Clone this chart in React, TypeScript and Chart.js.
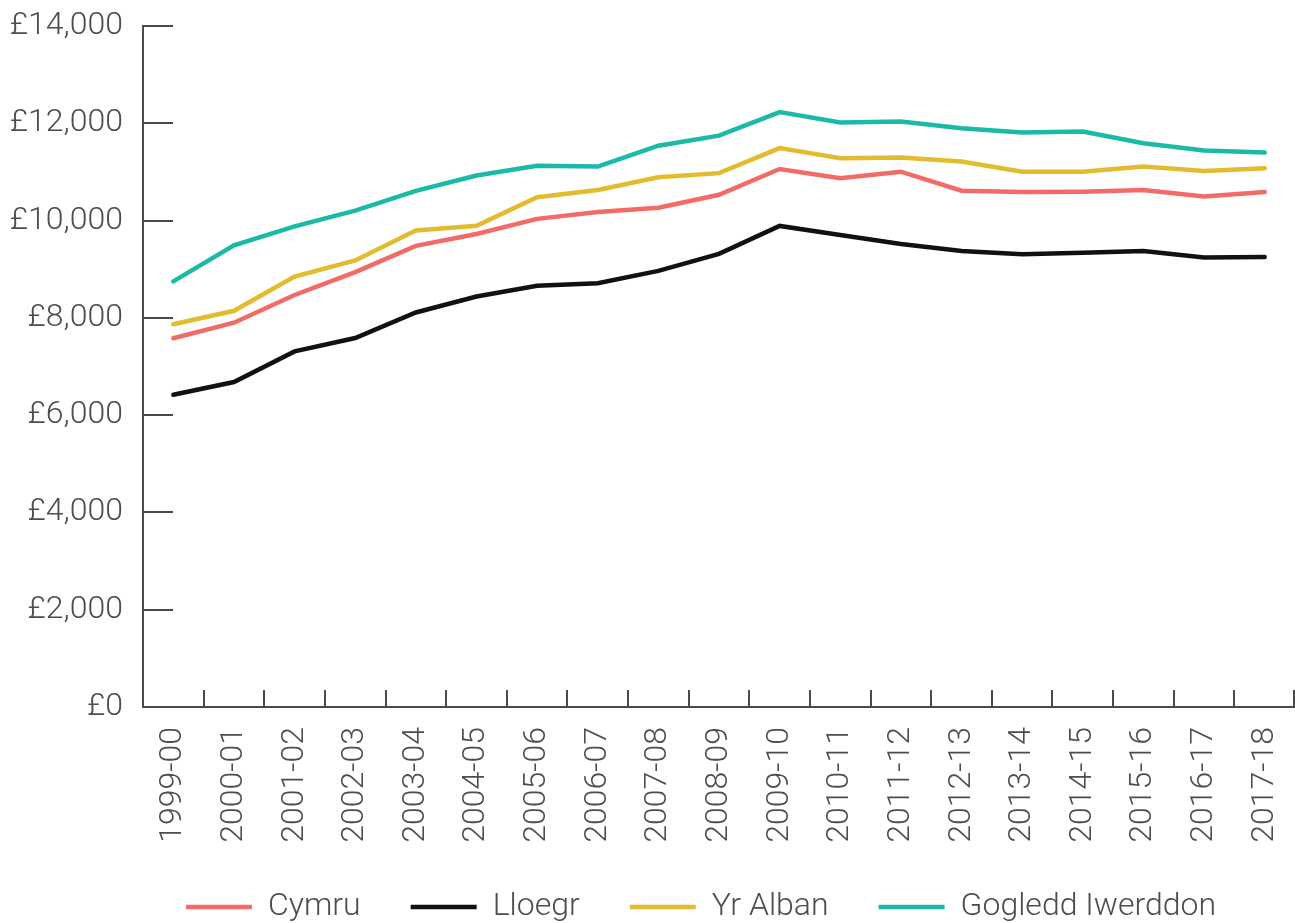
import React, { useEffect, useRef } from "react";
import { Chart, registerables } from "chart.js";

Chart.register(...registerables);

const categories = [
  "1999-00", "2000-01", "2001-02", "2002-03", "2003-04", "2004-05", "2005-06",
  "2006-07", "2007-08", "2008-09", "2009-10", "2010-11", "2011-12", "2012-13",
  "2013-14", "2014-15", "2015-16", "2016-17", "2017-18",
];

const cymru = [
  7580, 7900, 8470, 8940, 9480, 9725, 10035, 10175, 10265, 10530, 11060,
  10870, 11005, 10615, 10585, 10595, 10630, 10495, 10585,
];
const lloegr = [
  6420, 6680, 7310, 7585, 8110, 8440, 8660, 8710, 8965, 9315, 9890,
  9705, 9520, 9375, 9310, 9340, 9375, 9240, 9250,
];
const yrAlban = [
  7870, 8145, 8850, 9180, 9795, 9895, 10480, 10630, 10890, 10975, 11490,
  11280, 11295, 11215, 11005, 11005, 11110, 11020, 11075,
];
const gogleddIwerddon = [
  8750, 9490, 9880, 10205, 10610, 10925, 11125, 11110, 11540, 11745, 12230,
  12015, 12035, 11900, 11810, 11830, 11590, 11440, 11400,
];

const seriesNames = ["Cymru", "Lloegr", "Yr Alban", "Gogledd Iwerddon"];
const seriesColors = ["#f26b67", "#0e1217", "#e3bb2f", "#1bb9a8"];

const yMin = 0;
const yMax = 14000;
const yStep = 2000;

const FONT = "Roboto, 'Liberation Sans', Arial, sans-serif";
const TEXT_COLOR = "#4d4d4d";
const AXIS_COLOR = "#4a4a4a";

const inwardTicks = {
  id: "inwardTicks",
  beforeDatasetsDraw(chart: any) {
    const { ctx, chartArea, scales } = chart;
    const xs = scales.x;
    const ys = scales.y;
    ctx.save();
    ctx.strokeStyle = AXIS_COLOR;
    ctx.lineWidth = 2;
    ctx.beginPath();
    ys.ticks.forEach((_t: any, i: number) => {
      const py = Math.round(ys.getPixelForTick(i));
      ctx.moveTo(chartArea.left, py);
      ctx.lineTo(chartArea.left + 30, py);
    });
    for (let i = 1; i <= categories.length; i++) {
      const px = Math.min(Math.round(xs.getPixelForValue(i - 0.5)), chart.width - 1);
      ctx.moveTo(px, chartArea.bottom);
      ctx.lineTo(px, chartArea.bottom - 17);
    }
    ctx.stroke();
    ctx.restore();
  },
};

// Nudge the legend box to where the reference places it, and let the
// rotated category labels run past the (short) x-axis box without clipping.
const layoutTweaks = {
  id: "layoutTweaks",
  afterLayout(chart: any) {
    const lg = chart.legend;
    if (lg) {
      lg.left -= 18;
      lg.right -= 18;
      lg.top += 10;
      lg.bottom += 10;
    }
    const xs = chart.scales.x;
    if (xs) {
      xs.bottom = chart.height;
    }
  },
};

export default function App() {
  const canvasRef = useRef<HTMLCanvasElement | null>(null);

  useEffect(() => {
    if (!canvasRef.current) return;
    const seriesData = [cymru, lloegr, yrAlban, gogleddIwerddon];
    const font = { family: FONT, size: 32, weight: 300 as any };
    const chart = new Chart(canvasRef.current, {
      type: "line",
      data: {
        labels: categories,
        datasets: seriesNames.map((name, i) => ({
          label: name,
          data: seriesData[i],
          borderColor: seriesColors[i],
          backgroundColor: seriesColors[i],
          borderWidth: 4.5,
          borderCapStyle: "round" as const,
          borderJoinStyle: "miter" as const,
          pointRadius: 0,
          pointHoverRadius: 0,
          tension: 0,
          fill: false,
        })),
      },
      options: {
        animation: false,
        responsive: true,
        maintainAspectRatio: false,
        layout: { padding: { top: 26, right: 0, left: 0, bottom: 0 } },
        plugins: {
          tooltip: { enabled: false },
          legend: {
            position: "bottom",
            fullSize: false,
            labels: {
              usePointStyle: true,
              pointStyle: "line",
              pointStyleWidth: 66,
              padding: 50,
              color: TEXT_COLOR,
              font,
            },
          },
        },
        scales: {
          x: {
            type: "category",
            offset: true,
            grid: { display: false, drawTicks: false },
            border: { display: true, color: AXIS_COLOR, width: 2 },
            ticks: {
              autoSkip: false,
              minRotation: 90,
              maxRotation: 90,
              padding: 20,
              color: TEXT_COLOR,
              font,
            },
            afterFit: (s: any) => {
              s.height = 124;
              s.paddingLeft = 0;
              s.paddingRight = 0;
            },
          },
          y: {
            min: yMin,
            max: yMax,
            grid: { display: false, drawTicks: false },
            border: { display: true, color: AXIS_COLOR, width: 2 },
            ticks: {
              stepSize: yStep,
              padding: 20,
              color: TEXT_COLOR,
              font,
              callback: (v: any) => "£" + Number(v).toLocaleString("en-GB"),
            },
            afterFit: (s: any) => {
              s.width = 143;
              s.paddingTop = 0;
              s.paddingBottom = 0;
            },
          },
        },
      },
      plugins: [inwardTicks, layoutTweaks],
    });
    return () => chart.destroy();
  }, []);

  return (
    <div
      style={{
        position: "absolute",
        left: 0,
        top: 0,
        width: 1295,
        height: 923,
        background: "#ffffff",
      }}
    >
      <canvas ref={canvasRef} />
    </div>
  );
}
